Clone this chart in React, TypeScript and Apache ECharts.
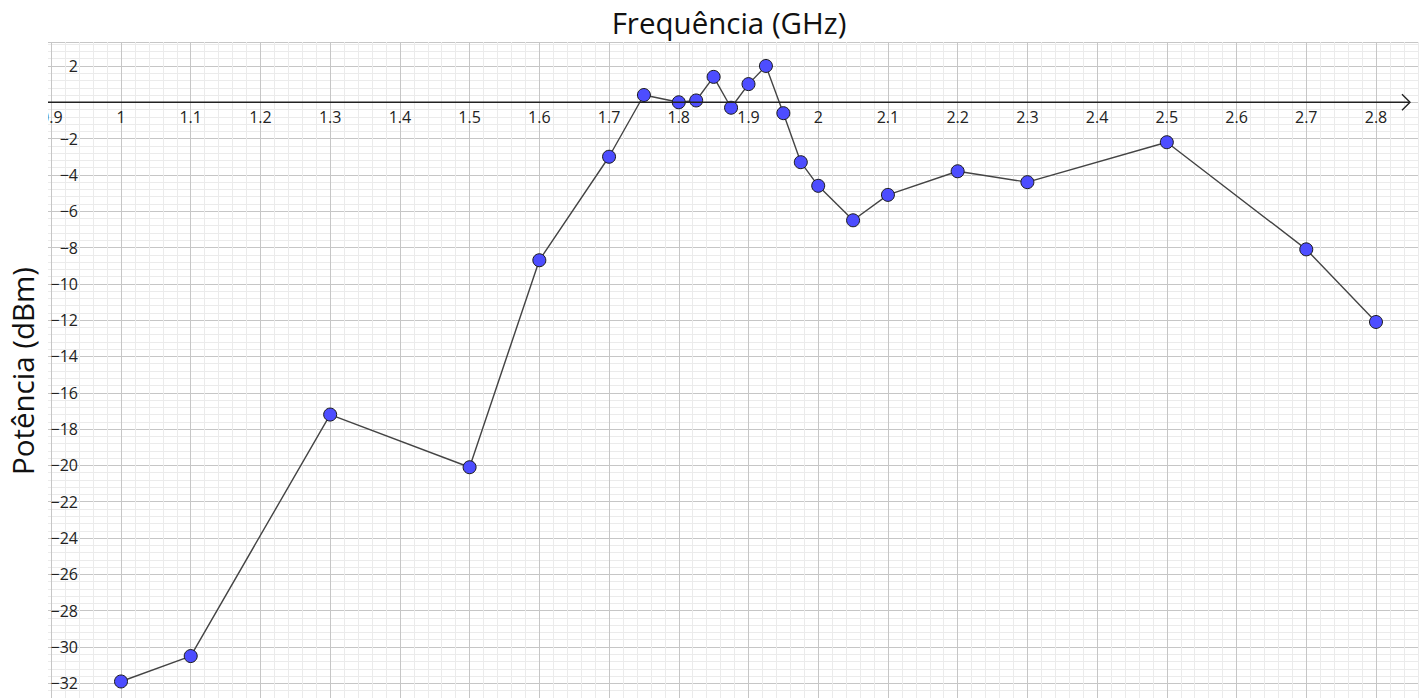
import React, { useEffect, useRef } from "react";
import * as echarts from "echarts";

const frequencies = [1.0, 1.1, 1.3, 1.5, 1.6, 1.7, 1.75, 1.8, 1.825, 1.85, 1.875, 1.9, 1.925, 1.95, 1.975, 2.0, 2.05, 2.1, 2.2, 2.3, 2.5, 2.7, 2.8];
const powers = [-31.9, -30.5, -17.2, -20.1, -8.7, -3.0, 0.4, 0.0, 0.1, 1.4, -0.3, 1.0, 2.0, -0.6, -3.3, -4.6, -6.5, -5.1, -3.8, -4.4, -2.2, -8.1, -12.1];

const titleText = "Frequência (GHz)";
const yNameText = "Potência (dBm)";

const FONT = "'Open Sans', 'Noto Sans', sans-serif";
const GRID_TOP = 42;

export default function App() {
  const ref = useRef<HTMLDivElement>(null);

  useEffect(() => {
    if (!ref.current) return;
    const chart = echarts.init(ref.current, undefined, { renderer: "svg" });
    const data = frequencies.map((f, i) => [f, powers[i]]);

    const option: any = {
      animation: false,
      backgroundColor: "#ffffff",
      grid: {
        left: -18.44,
        right: 0,
        top: GRID_TOP,
        bottom: -21.6,
        containLabel: false,
        outerBoundsMode: "none",
      },
      xAxis: {
        type: "value",
        position: "top",
        min: 0.8,
        max: 2.8617,
        interval: 0.1,
        axisLine: { show: false, onZero: false },
        axisTick: { show: false },
        minorTick: { show: false, splitNumber: 5 },
        splitLine: { show: true, lineStyle: { color: "#c6c6c6", width: 1 } },
        minorSplitLine: { show: true, lineStyle: { color: "#ebebeb", width: 1 } },
        axisLabel: {
          show: true,
          inside: true,
          showMaxLabel: false,
          fontFamily: FONT,
          fontSize: 16,
          lineHeight: 16,
          color: "#222",
          verticalAlign: "top",
          margin: 66,
        },
      },
      yAxis: {
        type: "value",
        min: -34,
        max: 3.32,
        interval: 2,
        axisLine: { show: false },
        axisTick: { show: false },
        minorTick: { show: false, splitNumber: 5 },
        splitLine: { show: true, lineStyle: { color: "#c6c6c6", width: 1 } },
        minorSplitLine: { show: true, lineStyle: { color: "#ebebeb", width: 1 } },
        axisLabel: {
          show: true,
          inside: true,
          align: "right",
          margin: 96.4,
          showMaxLabel: false,
          showMinLabel: false,
          fontFamily: FONT,
          fontSize: 16,
          color: "#222",
          formatter: (v: number) => {
            if (Math.abs(v) < 1e-9) return "";
            return v < 0 ? "\u2212" + Math.abs(v) : String(v);
          },
        },
      },
      series: [
        {
          type: "line",
          data,
          symbol: "circle",
          symbolSize: 13,
          z: 5,
          lineStyle: { color: "#444444", width: 1.4 },
          itemStyle: { color: "#4d4dff", borderColor: "#1a1a1a", borderWidth: 1 },
        },
      ],
    };
    chart.setOption(option);

    const y0 = chart.convertToPixel({ yAxisIndex: 0 }, 0) as number;
    chart.setOption({
      xAxis: { axisLabel: { margin: y0 - GRID_TOP + 7 } },
      graphic: [
        {
          type: "rect",
          z: 100,
          shape: { x: 0, y: 0, width: 48, height: 698 },
          style: { fill: "#ffffff" },
        },
        {
          type: "rect",
          z: 100,
          shape: { x: 0, y: 0, width: 1419, height: GRID_TOP },
          style: { fill: "#ffffff" },
        },
        {
          type: "line",
          z: 101,
          shape: { x1: 48, y1: y0, x2: 1409, y2: y0 },
          style: { stroke: "#222", lineWidth: 1.4 },
        },
        {
          type: "polyline",
          z: 101,
          shape: { points: [[1402, y0 - 8], [1410, y0], [1402, y0 + 8]] },
          style: { stroke: "#222", lineWidth: 1.4, fill: "none" },
        },
        {
          type: "text",
          z: 102,
          x: 729,
          y: 22,
          style: {
            text: titleText,
            fontFamily: FONT,
            fontSize: 29.5,
            fill: "#111",
            textAlign: "center",
            textVerticalAlign: "middle",
          },
        },
        {
          type: "text",
          z: 102,
          x: 22,
          y: 371,
          rotation: Math.PI / 2,
          style: {
            text: yNameText,
            fontFamily: FONT,
            fontSize: 29.5,
            fill: "#111",
            textAlign: "center",
            textVerticalAlign: "middle",
          },
        },
      ],
    });

    return () => chart.dispose();
  }, []);

  return (
    <div
      ref={ref}
      style={{ position: "fixed", left: 0, top: 0, width: 1419, height: 698 }}
    />
  );
}
